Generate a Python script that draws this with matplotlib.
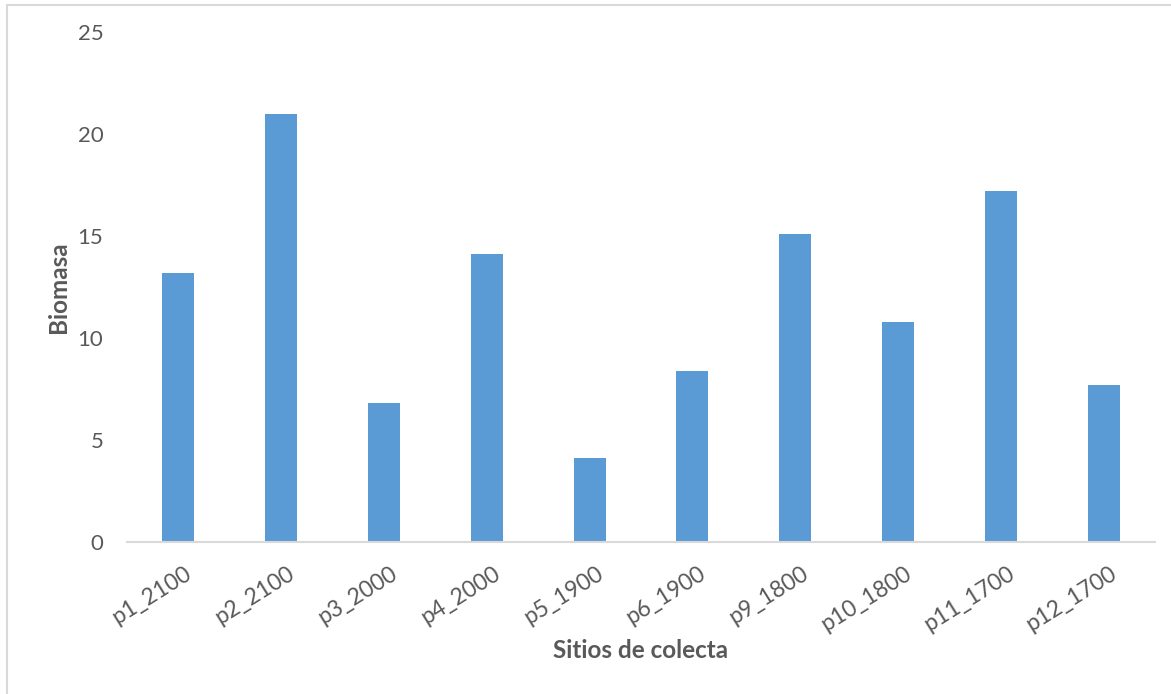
import matplotlib
matplotlib.use("Agg")
import matplotlib.pyplot as plt
from matplotlib.lines import Line2D
from matplotlib.transforms import ScaledTranslation

# Biomasa por sitio de colecta
sitios = ["p1_2100", "p2_2100", "p3_2000", "p4_2000", "p5_1900",
          "p6_1900", "p9_1800", "p10_1800", "p11_1700", "p12_1700"]
biomasa = [13.2, 21.0, 6.8, 14.1, 4.1, 8.4, 15.1, 10.8, 17.2, 7.7]
y_ticks = [0, 5, 10, 15, 20, 25]

W, H = 1171, 694
fig = plt.figure(figsize=(W / 100, H / 100), dpi=100)
plt.rcParams["font.family"] = ["Lato", "DejaVu Sans"]

ax = fig.add_axes([127 / W, 1 - 542 / H, (1155 - 127) / W, (542 - 32) / H])
x = range(len(sitios))
ax.bar(x, biomasa, width=0.31, color="#5B9BD5", zorder=2)

ax.set_xlim(-0.5, len(sitios) - 0.5)
ax.set_ylim(0, 25)
ax.set_yticks(y_ticks)
ax.set_xticks(list(x))
ax.set_xticklabels(sitios, rotation=32, ha="right", rotation_mode="anchor")

for s in ("top", "right", "left"):
    ax.spines[s].set_visible(False)
ax.spines["bottom"].set_color("#D9D9D9")
ax.spines["bottom"].set_linewidth(1.5)

ax.tick_params(axis="both", length=0, labelsize=16, labelcolor="#595959")
ax.tick_params(axis="y", pad=17)
ax.tick_params(axis="x", pad=15, labelsize=16.5)
for lbl in ax.get_xticklabels():
    lbl.set_transform(lbl.get_transform() + ScaledTranslation(0.06, 0, fig.dpi_scale_trans))

fig.text(641 / W, 1 - 651 / H, "Sitios de colecta", ha="center", va="center",
         fontsize=17.5, fontweight="bold", color="#595959")
fig.text(58 / W, 1 - 287 / H, "Biomasa", ha="center", va="center", rotation=90,
         fontsize=17.5, fontweight="bold", color="#595959")

# chart frame
fig.add_artist(Line2D([7 / W, 1], [1 - 5 / H, 1 - 5 / H], transform=fig.transFigure,
                      color="#D9D9D9", linewidth=1.5))
fig.add_artist(Line2D([7 / W, 7 / W], [0, 1 - 5 / H], transform=fig.transFigure,
                      color="#D9D9D9", linewidth=1.5))

fig.savefig("out.png", dpi=100, facecolor="white")
